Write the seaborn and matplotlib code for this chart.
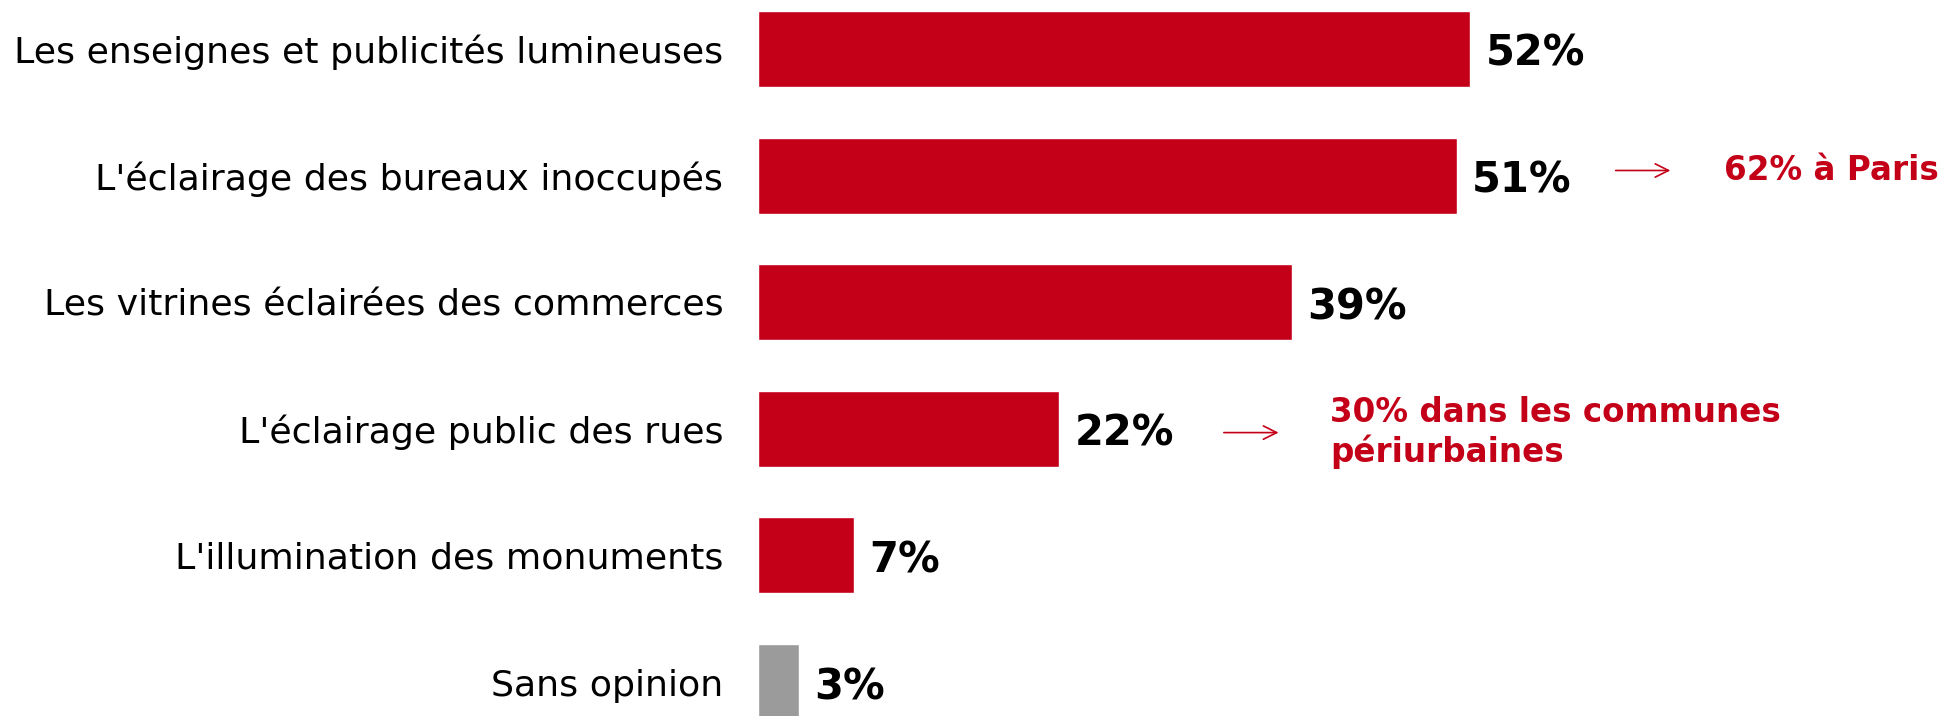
import pandas as pd
import numpy as np
import matplotlib
matplotlib.use("Agg")
import matplotlib.pyplot as plt
import seaborn as sns

# data
categories = ["Les enseignes et publicités lumineuses",
              "L'éclairage des bureaux inoccupés",
              "Les vitrines éclairées des commerces",
              "L'éclairage public des rues",
              "L'illumination des monuments",
              "Sans opinion"]
values = [52, 51, 39, 22, 7, 3]
bar_colors = ["#C40018", "#C40018", "#C40018", "#C40018", "#C40018", "#9B9B9B"]
note_rows = [1, 3]
note_texts = ["62% à Paris", "30% dans les communes\npériurbaines"]

RED = "#C40018"
# arrow start / text start (x units) and y for each note
arrow_x = [62.4, 33.8]
text_x = [70.5, 41.75]
note_y = [0.96, 3.03]

sns.set_style("white")
plt.rcParams['font.family'] = ['DejaVu Sans']

df = pd.DataFrame({"cat": categories, "val": values})

fig = plt.figure(figsize=(19.45, 7.16), dpi=100)
# left edge of the bars at x=758px, bar centres from ~49px to ~683px
ax = fig.add_axes([758 / 1945, 0, 1 - 758 / 1945, 1])

sns.barplot(data=df, x="val", y="cat", hue="cat", orient="h",
            palette=dict(zip(categories, bar_colors)), width=0.6,
            legend=False, ax=ax, saturation=1)

ax.set_xlim(0, (1945 - 758) / 13.7)
ax.set_ylim(5 + 34 / 126.8, -49 / 126.8)
ax.set(xlabel="", ylabel="")
ax.set_xticks([])
sns.despine(ax=ax, left=True, bottom=True)
ax.tick_params(axis="y", length=0, pad=25, labelsize=26.2, labelcolor="black")

# value labels
for i, v in enumerate(values):
    ax.text(v + 1.1, i + 0.04, f"{v}%", va="center", ha="left",
            fontsize=30, fontweight="bold", color="black")

# red notes with thin arrows
for txt, ax0, tx, y in zip(note_texts, arrow_x, text_x, note_y):
    ax.annotate("", xy=(ax0 + 4.4, y), xytext=(ax0, y),
                arrowprops=dict(arrowstyle="->", color=RED, lw=1.2,
                                mutation_scale=24),
                annotation_clip=False)
    ax.text(tx, y, txt, va="center", ha="left", linespacing=1.2,
            fontsize=23.5, fontweight="bold", color=RED, clip_on=False)

fig.savefig("out.png", dpi=100)
